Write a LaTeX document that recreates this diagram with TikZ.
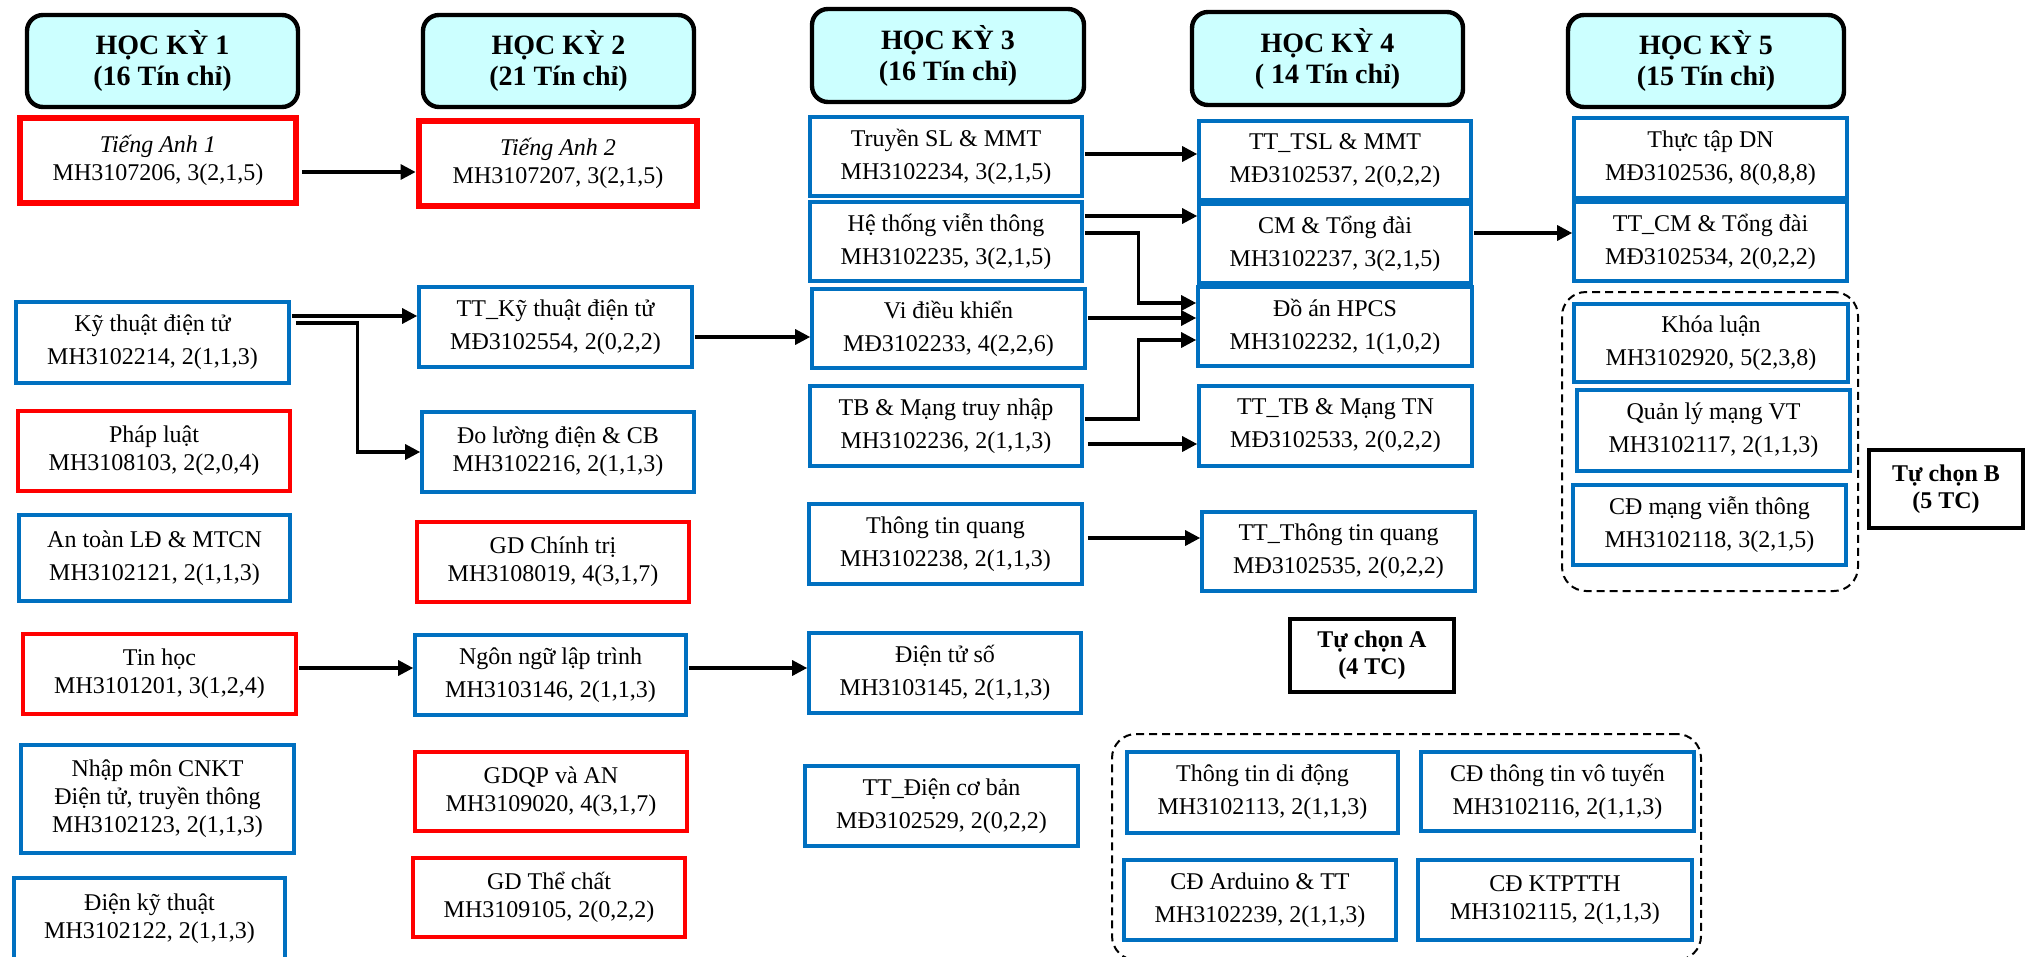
\documentclass[tikz,border=0pt]{standalone}
\usepackage{fontspec}
\setmainfont{Liberation Serif}
\usetikzlibrary{arrows.meta,calc}
\definecolor{cblue}{RGB}{0,112,192}
\definecolor{cred}{RGB}{255,0,0}
\definecolor{headcyan}{RGB}{204,255,255}

% \course{name}{style}{x1}{y1}{x2}{y2}{text}: a box given by its outer corners (px)
\newcommand\course[7]{%
  \node[#2, minimum width={(#5-#3)*0.5pt-2pt}, minimum height={(#6-#4)*0.5pt-2pt}]
    (#1) at ({(#3+#5)/2},{(#4+#6)/2}) {#7};}

\begin{document}
\begin{tikzpicture}[x=0.5pt,y=-0.5pt,
  bluebox/.style={draw=cblue, line width=1.8pt, fill=white, align=center, inner sep=0pt,
                  font=\fontsize{12}{16.5}\selectfont},
  redbox/.style={bluebox, draw=cred},
  redthick/.style={bluebox, draw=cred, line width=3.4pt},
  snug/.style={font=\fontsize{12}{14}\selectfont},
  semhead/.style={draw=black, line width=2.2pt, fill=headcyan, rounded corners=8pt,
                  align=center, inner sep=0pt, font=\bfseries\fontsize{14}{15.5}\selectfont},
  choicebox/.style={draw=black, line width=2pt, fill=white, align=center, inner sep=0pt,
                  font=\bfseries\fontsize{12}{13.5}\selectfont},
  groupbox/.style={draw=black, line width=1pt, dash pattern=on 4pt off 2.5pt,
                  rounded corners=12pt, inner sep=0pt},
  link/.style={line width=1.6pt, -{Triangle[length=7.5pt,width=7.5pt]}}]

\fill[white] (0,0) rectangle (2027,957);
\useasboundingbox (0,0) rectangle (2027,957);

% elective groups
\course{grpA}{groupbox}{1110}{732}{1703}{962}{}
\course{grpB}{groupbox}{1560}{290}{1860}{593}{}

% semester headers
\course{hk1}{semhead}{25}{13}{300}{109}{HỌC KỲ 1\\(16 Tín chỉ)}
\course{hk2}{semhead}{421}{13}{696}{109}{HỌC KỲ 2\\(21 Tín chỉ)}
\course{hk3}{semhead}{810}{7}{1086}{104}{HỌC KỲ 3\\(16 Tín chỉ)}
\course{hk4}{semhead}{1190}{10}{1465}{107}{HỌC KỲ 4\\( 14 Tín chỉ)}
\course{hk5}{semhead}{1566}{13}{1846}{109}{HỌC KỲ 5\\(15 Tín chỉ)}

% semester 1
\course{ta1}{redthick,snug}{18}{116}{298}{205}{\textit{Tiếng Anh 1}\\MH3107206, 3(2,1,5)}
\course{ktdt}{bluebox}{14}{300}{291}{385}{Kỹ thuật điện tử\\MH3102214, 2(1,1,3)}
\course{phapluat}{redbox,snug}{16}{409}{292}{493}{Pháp luật\\MH3108103, 2(2,0,4)}
\course{antoan}{bluebox}{17}{513}{292}{603}{An toàn LĐ \& MTCN\\MH3102121, 2(1,1,3)}
\course{tinhoc}{redbox,snug}{21}{632}{298}{716}{Tin học\\MH3101201, 3(1,2,4)}
\course{nhapmon}{bluebox,snug}{19}{743}{296}{855}{Nhập môn CNKT\\Điện tử, truyền thông\\MH3102123, 2(1,1,3)}
\course{dienkt}{bluebox,snug}{12}{876}{287}{962}{Điện kỹ thuật\\MH3102122, 2(1,1,3)}

% semester 2
\course{ta2}{redthick,snug}{417}{119}{699}{208}{\textit{Tiếng Anh 2}\\MH3107207, 3(2,1,5)}
\course{ttktdt}{bluebox}{417}{285}{694}{369}{TT\_Kỹ thuật điện tử\\MĐ3102554, 2(0,2,2)}
\course{dolg}{bluebox,snug}{420}{410}{696}{494}{Đo lường điện \& CB\\MH3102216, 2(1,1,3)}
\course{gdct}{redbox,snug}{415}{520}{691}{604}{GD Chính trị\\MH3108019, 4(3,1,7)}
\course{nnlt}{bluebox}{413}{633}{688}{717}{Ngôn ngữ lập trình\\MH3103146, 2(1,1,3)}
\course{gdqp}{redbox,snug}{413}{750}{689}{833}{GDQP và AN\\MH3109020, 4(3,1,7)}
\course{gdtc}{redbox,snug}{411}{856}{687}{939}{GD Thể chất\\MH3109105, 2(0,2,2)}

% semester 3
\course{tsl}{bluebox}{808}{115}{1084}{198}{Truyền SL \& MMT\\MH3102234, 3(2,1,5)}
\course{htvt}{bluebox}{808}{200}{1084}{283}{Hệ thống viễn thông\\MH3102235, 3(2,1,5)}
\course{vdk}{bluebox}{810}{287}{1087}{370}{Vi điều khiển\\MĐ3102233, 4(2,2,6)}
\course{tb}{bluebox}{808}{384}{1084}{468}{TB \& Mạng truy nhập\\MH3102236, 2(1,1,3)}
\course{ttq}{bluebox}{807}{502}{1084}{586}{Thông tin quang\\MH3102238, 2(1,1,3)}
\course{dts}{bluebox}{807}{631}{1083}{715}{Điện tử số\\MH3103145, 2(1,1,3)}
\course{ttdcb}{bluebox}{803}{764}{1080}{848}{TT\_Điện cơ bản\\MĐ3102529, 2(0,2,2)}

% semester 4
\course{tttsl}{bluebox}{1197}{119}{1473}{202}{TT\_TSL \& MMT\\MĐ3102537, 2(0,2,2)}
\course{cm}{bluebox}{1197}{202}{1473}{285}{CM \& Tổng đài\\MH3102237, 3(2,1,5)}
\course{doan}{bluebox}{1196}{285}{1474}{368}{Đồ án HPCS\\MH3102232, 1(1,0,2)}
\course{tttb}{bluebox}{1197}{384}{1474}{468}{TT\_TB \& Mạng TN\\MĐ3102533, 2(0,2,2)}
\course{tttq}{bluebox}{1200}{510}{1477}{593}{TT\_Thông tin quang\\MĐ3102535, 2(0,2,2)}
\course{tca}{choicebox}{1288}{617}{1456}{694}{Tự chọn A\\(4 TC)}
\course{ttdd}{bluebox}{1125}{750}{1400}{835}{Thông tin di động\\MH3102113, 2(1,1,3)}
\course{cdvt}{bluebox}{1419}{750}{1696}{833}{CĐ thông tin vô tuyến\\MH3102116, 2(1,1,3)}
\course{cdard}{bluebox}{1122}{858}{1398}{942}{CĐ Arduino \& TT\\MH3102239, 2(1,1,3)}
\course{cdkt}{bluebox,snug}{1416}{858}{1694}{942}{CĐ KTPTTH\\MH3102115, 2(1,1,3)}

% semester 5
\course{tttdn}{bluebox}{1572}{116}{1849}{200}{Thực tập DN\\MĐ3102536, 8(0,8,8)}
\course{ttcm}{bluebox}{1572}{200}{1849}{283}{TT\_CM \& Tổng đài\\MĐ3102534, 2(0,2,2)}
\course{khoaluan}{bluebox}{1572}{302}{1850}{384}{Khóa luận\\MH3102920, 5(2,3,8)}
\course{qlm}{bluebox}{1575}{388}{1852}{473}{Quản lý mạng VT\\MH3102117, 2(1,1,3)}
\course{cdm}{bluebox}{1571}{483}{1848}{567}{CĐ mạng viễn thông\\MH3102118, 3(2,1,5)}
\course{tcb}{choicebox}{1867}{448}{2025}{530}{Tự chọn B\\(5 TC)}

% prerequisite links
\coordinate (a1) at ($(ta1.east)+(3,11.5)$);
\draw[link] (a1) -- (a1 -| ta2.west);
\coordinate (b1) at ($(ktdt.east)+(1,-26.5)$);
\draw[link] (b1) -- (b1 -| ttktdt.west);
\coordinate (b2) at ($(ktdt.east)+(5,-19.5)$);
\draw[link] (b2) -- ++(62,0) |- (dolg.west);
\coordinate (c1) at ($(tinhoc.east)+(1,-6)$);
\draw[link] (c1) -- (c1 -| nnlt.west);
\coordinate (c2) at ($(nnlt.east)+(1,-7)$);
\draw[link] (c2) -- (c2 -| dts.west);
\coordinate (c3) at ($(ttktdt.east)+(1,10)$);
\draw[link] (c3) -- (c3 -| vdk.west);
\coordinate (d1) at ($(tsl.east)+(1,-2.5)$);
\draw[link] (d1) -- (d1 -| tttsl.west);
\coordinate (d2) at ($(htvt.east)+(1,-25.5)$);
\draw[link] (d2) -- (d2 -| cm.west);
\coordinate (d3) at ($(htvt.east)+(1,-8.5)$);
\draw[link] (d3) -- ++(54,0) |- ($(doan.west)+(0,-23.5)$);
\coordinate (d4) at ($(vdk.east)+(1,-10.5)$);
\draw[link] (d4) -- (d4 -| doan.west);
\coordinate (d5) at ($(tb.east)+(1,-7)$);
\draw[link] (d5) -- ++(54,0) |- ($(doan.west)+(0,13.5)$);
\coordinate (d6) at ($(tb.east)+(4,18)$);
\draw[link] (d6) -- (d6 -| tttb.west);
\coordinate (d7) at ($(ttq.east)+(4,-6)$);
\draw[link] (d7) -- (d7 -| tttq.west);
\coordinate (e1) at ($(cm.east)+(1,-10.5)$);
\draw[link] (e1) -- (e1 -| ttcm.west);
\end{tikzpicture}
\end{document}
